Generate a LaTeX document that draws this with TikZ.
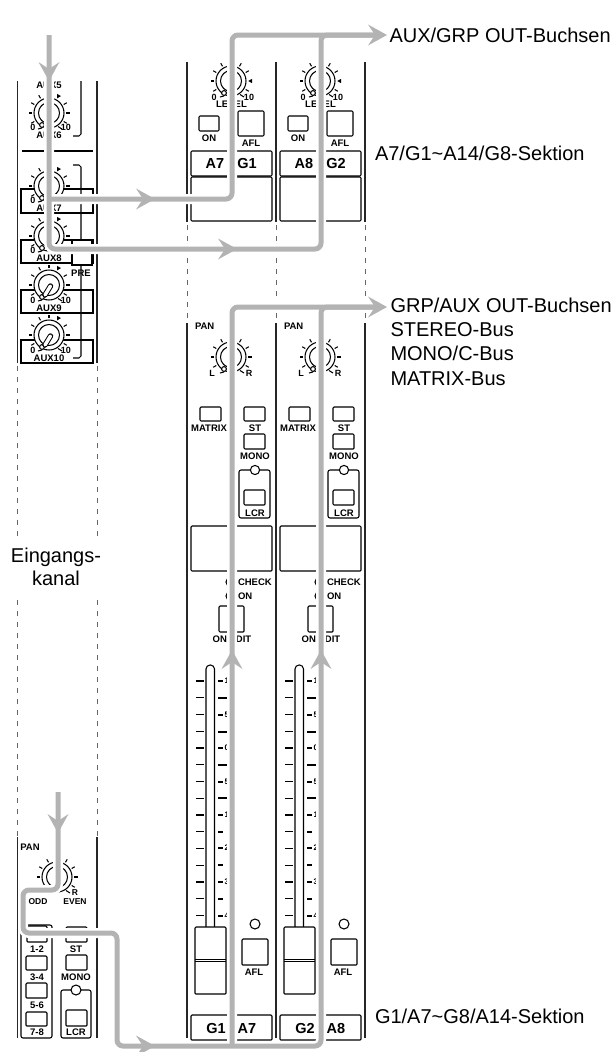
\documentclass[tikz,border=0pt]{standalone}
\usepackage{fontspec}
\setmainfont{Liberation Sans}
\definecolor{flowgray}{HTML}{B3B3B3}
\newcounter{lb}
\newcommand{\bfsz}[1]{\fontsize{#1}{#1}\selectfont\bfseries}
% small bold label
\newcommand{\lab}[4][9.5]{\stepcounter{lb}\node[txt,name=l\thelb] at (#2,#3) {\bfsz{#1}#4};}
\newcommand{\btn}[4]{\draw[btnbox] (#1,#2) rectangle (#3,#4);}
% arrow head on a flow line: coordinate of its tip, direction
\newcommand{\flowhead}[2]{\fill[flowgray,shift={(#1)},rotate=#2] (0,0) -- (-19,10.5) -- (-12,0) -- (-19,-10.5) -- cycle;}
% knob: x, y, marker angle, marker direction (999 = no marker)
\newcommand{\knob}[4]{%
 \begin{scope}[shift={(#1,#2)},y=1pt]
  \foreach \a in {-30,0,30,60,90,120,150,180,210}{%
    \ifnum\a=#3\relax\else\draw[ln] (\a:17) -- (\a:20.5);\fi}
  \ifnum#3=999\relax\else
   \fill[black,shift={(#3:19.5)},rotate=#4] (2.2,0) -- (-1.6,2.2) -- (-1.6,-2.2) -- cycle;
  \fi
  \draw[ln,fill=white] (0,0) circle (15);
  \draw[ln] (0,0) circle (10.5);
  \draw[ln] (-11,-16) -- (-7,-15);
  \draw[ln] (9,-13.5) -- (13,-16);
  \draw[ln,fill=white] (-7,-12) circle (2.4);
 \end{scope}}
\newcommand{\pointer}[2]{%
 \draw[line width=5.4pt,line cap=round,black] (#1+1.5,#2+1) -- (#1-4,#2+10);
 \draw[line width=3.4pt,line cap=round,white] (#1+1.5,#2+1) -- (#1-4,#2+10);}
\tikzset{
 ln/.style={line width=1.05pt,black},
 btnbox/.style={ln,rounded corners=1pt,fill=white},
 panel/.style={line width=1.1pt,black!85},
 dashpanel/.style={line width=0.8pt,black!60,dash pattern=on 5pt off 6pt},
 txt/.style={inner sep=0pt,outer sep=0pt,align=center},
 bigtxt/.style={inner sep=0pt,outer sep=0pt,anchor=base west,font=\fontsize{20}{24}\selectfont},
 halo/.style={line width=10pt,white,rounded corners=6pt},
 flow/.style={line width=5pt,flowgray,rounded corners=6pt},
}
\begin{document}
\begin{tikzpicture}[x=1pt,y=-1pt]
\useasboundingbox (0,0) rectangle (613,1052);
\fill[white] (0,0) rectangle (613,1052);

% ---------- left strip: panel edges
\draw[panel] (17.5,81) -- (17.5,363);
\draw[panel] (97,81) -- (97,363);
\foreach \x in {17.5,97}{
  \draw[dashpanel] (\x,366) -- (\x,536);
  \draw[dashpanel] (\x,600) -- (\x,837);
}
\draw[panel] (17.5,837) -- (17.5,1038);
\draw[panel] (97,837) -- (97,1038);

% AUX section
\draw[ln] (73,136) -- (79,136) to[out=0,in=90] (81,134) -- (81,81);
\draw[ln] (22,151) -- (93,151);
\draw[ln] (73,165) -- (79,165) to[out=0,in=-90] (81,167) -- (81,356) to[out=90,in=0] (79,358) -- (73,358);
\draw[ln] (21,189) rectangle (93,213);
\draw[ln] (21,240) rectangle (93,263);
\draw[ln] (21,290) rectangle (93,313);
\draw[ln] (21,340) rectangle (93,363);
\draw[ln,fill=white] (72,240) rectangle (92,265);
\knob{49}{113}{60}{0}
\knob{49}{186}{60}{0}
\knob{49}{236}{60}{0}
\knob{49}{285}{60}{0}\pointer{49}{285}
\knob{49}{335}{60}{0}\pointer{49}{335}
\lab{49}{85}{AUX5}
\lab[9]{33}{127}{0}\lab[9]{66}{127}{10}
\lab{49}{135}{AUX6}
\lab[9]{33}{200}{0}\lab[9]{66}{200}{10}
\lab{49}{208}{AUX7}
\lab[9]{33}{250}{0}\lab[9]{66}{250}{10}
\lab{49}{258}{AUX8}
\lab{81}{273}{PRE}
\lab[9]{33}{300}{0}\lab[9]{66}{300}{10}
\lab{49}{308}{AUX9}
\lab[9]{33}{350}{0}\lab[9]{66}{350}{10}
\lab{49}{358}{AUX10}

% input channel bottom
\lab{30}{847}{PAN}
\knob{57}{877}{999}{0}
\lab[8.5]{75}{893}{R}
\lab[8.5]{38}{902}{ODD}
\lab[8.5]{75}{902}{EVEN}
\draw[btnbox,rounded corners=2pt] (21,1038) -- (21,925) -- (52,925) -- (52,1038) -- cycle;
\btn{27}{926}{47}{942}
\btn{26}{956}{47}{970}
\btn{26}{983}{47}{998}
\btn{26}{1012}{47}{1026}
\btn{66}{927}{87}{942}
\btn{66}{955}{87}{970}
\draw[btnbox,rounded corners=2pt] (61,990) rectangle (91,1038);
\draw[ln,fill=white] (76,990) circle (5);
\btn{66}{1010}{87}{1026}
\lab{37}{949}{1-2}\lab{37}{977}{3-4}\lab{37}{1005}{5-6}\lab{37}{1032}{7-8}
\lab{76}{949}{ST}\lab{76}{977}{MONO}\lab{76}{1032}{LCR}

% ---------- two channel strips
\draw[panel] (187,62) -- (187,222);
\draw[panel] (276,62) -- (276,222);
\draw[panel] (365,62) -- (365,222);
\foreach \x in {187,276,365}{
  \draw[dashpanel] (\x,225) -- (\x,323);
  \draw[panel] (\x,323) -- (\x,1038);
}
\foreach \dx/\na/\nb/\nc/\nd in {0/A7/G1/G1/A7,89/A8/G2/G2/A8}{
 \begin{scope}[shift={(\dx,0)}]
  % upper section
  \knob{231}{81}{0}{180}
  \lab[9]{214}{97}{0}\lab[9]{249}{97}{10}
  \lab{231.5}{104}{LEVEL}
  \btn{199}{116}{219}{131}
  \lab{209}{138}{ON}
  \btn{238}{111}{264}{136}
  \lab{251}{143}{AFL}
  \draw[btnbox] (191,151) rectangle (272,176);
  \draw[btnbox] (191,177) rectangle (272,221);
  \lab[14.5]{215}{163.5}{\na}
  \lab[14.5]{247}{163.5}{\nb}
  % pan
  \stepcounter{lb}\node[txt,anchor=west,name=l\thelb] at (195,326) {\bfsz{9.5}PAN};
  \knob{231}{357}{999}{0}
  \lab[9]{212}{373}{L}\lab[9]{249}{373}{R}
  \btn{200}{407}{221}{421}
  \lab{209}{428}{MATRIX}
  \btn{244}{407}{265}{421}
  \lab{255}{428}{ST}
  \btn{244}{434}{265}{449}
  \lab{255}{456}{MONO}
  \draw[btnbox,rounded corners=2pt] (239,470) rectangle (270,518);
  \draw[ln,fill=white] (255,470) circle (4.6);
  \btn{244}{490}{265}{505}
  \lab{255}{513}{LCR}
  % display box
  \draw[btnbox] (191,526) rectangle (272,571);
  \draw[ln] (230,582) circle (4);
  \draw[ln] (230,596) circle (4);
  \stepcounter{lb}\node[txt,anchor=west,name=l\thelb] at (238,582) {\bfsz{9.5}CHECK};
  \stepcounter{lb}\node[txt,anchor=west,name=l\thelb] at (238,596) {\bfsz{9.5}ON};
  \btn{219}{606}{244}{632}
  \lab{232}{639}{ON/EDIT}
  % fader scale
  \foreach \k in {0,...,14}{
    \pgfmathsetmacro{\yy}{681+16.75*\k}
    \draw[ln] (196,\yy) -- (204,\yy);
  }
  \foreach \yy/\vv in {681/10,715/5,782/5,815/10,848/20,882/30,916/40}{
    \draw[ln] (218,\yy) -- (222.5,\yy);
    \stepcounter{lb}\node[txt,anchor=west,name=l\thelb] at (224.5,\yy) {\bfsz{8}\vv};
  }
  \foreach \yy in {698,732,765,798}{ \draw[ln] (218,\yy) -- (227,\yy); }
  \foreach \yy in {832,865,899}{ \draw[ln] (218,\yy) -- (222.5,\yy); }
  \draw[line width=2.2pt] (196,748) -- (204,748);
  \draw[line width=2.2pt] (218,748) -- (222.5,748);
  \stepcounter{lb}\node[txt,anchor=west,name=l\thelb] at (224.5,748) {\bfsz{8}0};
  % fader slot and cap
  \draw[ln,fill=white,rounded corners=4pt] (206,927) -- (206,665) -- (214.5,665) -- (214.5,927);
  \draw[btnbox] (195,927) rectangle (226,994);
  \draw[line width=0.8pt] (195,959) -- (226,959);
  \draw[line width=0.8pt] (195,961) -- (226,961);
  % AFL lower
  \draw[ln] (255,924) circle (5);
  \btn{242}{939}{268}{965}
  \lab{254}{972}{AFL}
  \draw[btnbox] (191,1015) rectangle (272,1040);
  \lab[14.5]{216}{1028}{\nc}
  \lab[14.5]{247}{1028}{\nd}
 \end{scope}
}

% ---------- junctions of the signal flow
\coordinate (inA) at (49,35);
\coordinate (inAtip) at (49,81);
\coordinate (juncA) at (49,199);
\coordinate (a1tip) at (155,199);
\coordinate (a1up) at (232,199);
\coordinate (topL) at (232,35);
\coordinate (outTop) at (387,35);
\coordinate (a2c) at (49,249);
\coordinate (a2tip) at (237,249);
\coordinate (a2up) at (321,249);
\coordinate (topR) at (321,35);
\coordinate (topRend) at (375,35);
\coordinate (inB) at (58,792);
\coordinate (inBtip) at (58,833);
\coordinate (b1) at (58,890);
\coordinate (b2) at (23,890);
\coordinate (b3) at (23,933);
\coordinate (b4) at (117,933);
\coordinate (b5) at (117,1046);
\coordinate (b5tip) at (155,1046);
\coordinate (b6) at (232,1046);
\coordinate (b7) at (321,1046);
\coordinate (up1tip) at (232,650);
\coordinate (up2tip) at (321,650);
\coordinate (midL) at (232,307);
\coordinate (midR) at (321,307);
\coordinate (midRend) at (375,307);
\coordinate (outMid) at (387,307);

% white keep-outs under the flow lines
\draw[halo] (inA) -- (a2c) -- (a2up) -- (topR) -- (topRend);
\draw[halo] (juncA) -- (a1up) -- (topL) -- (topRend);
\draw[halo] (inB) -- (b1) -- (b2) -- (b3) -- (b4) -- (b5) -- (b7) -- (midR) -- (midRend);
\draw[halo] (b6) -- (midL) -- (midRend);

% flow lines: top group
\draw[flow] (juncA) -- (a1up) -- (topL) -- (topRend);
\draw[flow] (inA) -- (a2c) -- (a2up) -- (topR) -- (topRend);
\flowhead{inAtip}{-90}
\flowhead{a1tip}{0}
\flowhead{a2tip}{0}
\flowhead{outTop}{0}
% flow lines: bottom group
\draw[flow] (inB) -- (b1) -- (b2) -- (b3) -- (b4) -- (b5) -- (b7) -- (midR) -- (midRend);
\draw[flow] (b6) -- (midL) -- (midRend);
\flowhead{inBtip}{-90}
\flowhead{b5tip}{0}
\flowhead{up1tip}{90}
\flowhead{up2tip}{90}
\flowhead{outMid}{0}

% ---------- captions
\node[bigtxt] (capA) at (389.5,42) {AUX/GRP OUT-Buchsen};
\node[bigtxt] (capB) at (375,160) {A7/G1\textasciitilde A14/G8-Sektion};
\node[bigtxt] (capC) at (390.5,312) {GRP/AUX OUT-Buchsen};
\node[bigtxt] (capD) at (390.5,336.5) {STEREO-Bus};
\node[bigtxt] (capE) at (390.5,360.5) {MONO/C-Bus};
\node[bigtxt] (capF) at (390.5,385) {MATRIX-Bus};
\node[bigtxt] (capG) at (375,1023) {G1/A7\textasciitilde G8/A14-Sektion};
\node[txt,anchor=base,font=\fontsize{20}{24}\selectfont] (capH) at (56,562) {Eingangs-};
\node[txt,anchor=base,font=\fontsize{20}{24}\selectfont] (capI) at (56,585.5) {kanal};
\end{tikzpicture}
\end{document}
